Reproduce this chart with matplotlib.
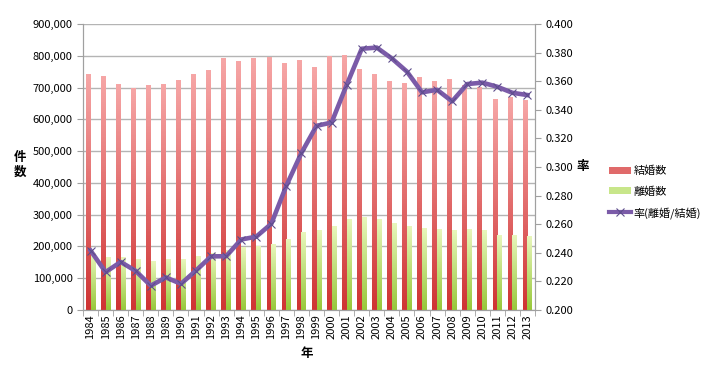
import numpy as np
import matplotlib
matplotlib.use("Agg")
import matplotlib.pyplot as plt
from matplotlib.colors import LinearSegmentedColormap
from matplotlib.patches import Patch
from matplotlib.lines import Line2D
from matplotlib.ticker import FuncFormatter, MultipleLocator

plt.rcParams['font.family'] = ['Noto Sans CJK JP', 'DejaVu Sans']

# データ
years = list(range(1984, 2014))
marriages = [739991, 735850, 710962, 696173, 707716, 708316, 722138, 742264, 754441, 792658,
             782738, 791888, 795080, 775651, 784595, 762028, 798138, 799999, 757331, 740191,
             720417, 714265, 730971, 719822, 726106, 707734, 700214, 661895, 668869, 660613]
divorces = [178746, 166640, 166054, 158227, 153600, 157811, 157608, 168969, 179191, 188297,
            195106, 199016, 206955, 222635, 243183, 250529, 264246, 285911, 289836, 283854,
            270804, 261917, 257475, 254832, 251136, 253353, 251378, 235719, 235406, 231383]
rate = [0.2416, 0.2265, 0.2336, 0.2273, 0.2170, 0.2228, 0.2183, 0.2276, 0.2375, 0.2376,
        0.2493, 0.2513, 0.2603, 0.2870, 0.3099, 0.3288, 0.3311, 0.3574, 0.3827, 0.3835,
        0.3759, 0.3667, 0.3522, 0.3540, 0.3459, 0.3580, 0.3590, 0.3561, 0.3519, 0.3503]

fig = plt.figure(figsize=(7.2, 3.7), dpi=100)
ax = fig.add_axes([83/720, 60/370, 452/720, 286/370])
ax2 = ax.twinx()

x = np.arange(len(years))
w = 0.32
red_cmap = LinearSegmentedColormap.from_list("r", ["#cf3434", "#f6a6a6"])
green_cmap = LinearSegmentedColormap.from_list("g", ["#98c83a", "#e8f6bc"])
grad = np.linspace(0, 1, 100).reshape(-1, 1)

red_bars = ax.bar(x - w/2, marriages, w, color="none", zorder=2)
green_bars = ax.bar(x + w/2, divorces, w, color="none", zorder=2)
# グラデーションで棒を塗る
for bars, cmap in ((red_bars, red_cmap), (green_bars, green_cmap)):
    for b in bars:
        x0, h, bw = b.get_x(), b.get_height(), b.get_width()
        ax.imshow(grad, cmap=cmap, origin="lower", aspect="auto",
                  extent=[x0, x0 + bw, 0, h], zorder=2)

ax.set_xlim(-0.5, len(years) - 0.5)
ax.set_ylim(0, 900000)
ax.yaxis.set_major_locator(MultipleLocator(100000))
ax.yaxis.set_major_formatter(FuncFormatter(lambda v, p: f"{int(v):,}"))
ax.grid(axis="y", color="#b4b4b4", linewidth=1, zorder=0)
ax.set_axisbelow(True)
ax.set_xticks(x)
ax.set_xticklabels([str(y) for y in years], rotation=90, fontsize=8)
ax.set_xticks(np.arange(-0.5, len(years)), minor=True)
ax.tick_params(axis="x", which="major", length=0, pad=3)
ax.tick_params(axis="x", which="minor", length=4, color="#a0a0a0")
ax.tick_params(axis="y", labelsize=8, length=4, color="#a0a0a0")

ax2.plot(x, rate, color="#7b5ba8", linewidth=3.3, marker="x", markersize=6,
         markeredgecolor="#5d4d8c", markeredgewidth=0.8, zorder=5)
ax2.set_ylim(0.2, 0.4)
ax2.yaxis.set_major_locator(MultipleLocator(0.02))
ax2.yaxis.set_major_formatter(FuncFormatter(lambda v, p: f"{v:.3f}"))
ax2.tick_params(axis="y", labelsize=8, length=4, color="#a0a0a0")

for a in (ax, ax2):
    for s in a.spines.values():
        s.set_color("#a0a0a0")
    a.spines["top"].set_visible(False)

fig.text(20/720, 1 - 165/370, "件\n数", fontsize=9, fontweight="bold",
         ha="center", va="center", linespacing=1.1)
fig.text(583/720, 1 - 166/370, "率", fontsize=9, fontweight="bold", ha="center", va="center")
fig.text(307/720, 1 - 354/370, "年", fontsize=9, fontweight="bold", ha="center", va="center")

handles = [Patch(facecolor="#e06a6a", edgecolor="none"),
           Patch(facecolor="#c8e68a", edgecolor="none"),
           Line2D([], [], color="#7b5ba8", linewidth=3, marker="x", markersize=6,
                  markeredgecolor="#5d4d8c", markeredgewidth=0.8)]
fig.legend(handles, ["結婚数", "離婚数", "率(離婚/結婚)"], loc="upper left",
           bbox_to_anchor=(609/720, 1 - 166/370), frameon=False, fontsize=8,
           handlelength=2.0, handleheight=0.6, handletextpad=0.2, labelspacing=0.9,
           borderaxespad=0, borderpad=0)

fig.savefig("out.png", dpi=100)
